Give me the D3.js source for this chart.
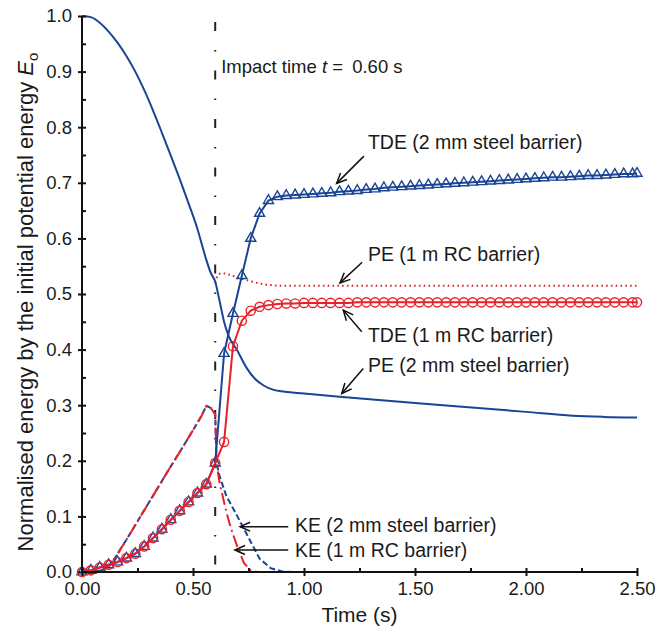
<!DOCTYPE html>
<html>
<head>
<meta charset="utf-8">
<script src="https://cdn.jsdelivr.net/npm/d3@7"></script>
<style>
  body { margin: 0; background: #fff; }
  svg text { font-family: "Liberation Sans", Arial, sans-serif; fill: #1a1a1a; }
</style>
</head>
<body>
<div id="chart"></div>
<script>
// time grid of the marker series (s)
var tdeTime = [0.00, 0.04, 0.08, 0.12, 0.16, 0.20, 0.24, 0.28, 0.32, 0.36, 0.40, 0.44, 0.48, 0.52, 0.56, 0.60,
    0.64, 0.68, 0.72, 0.76, 0.80, 0.84, 0.88, 0.92, 0.96, 1.00, 1.04, 1.08, 1.12, 1.16, 1.20, 1.24, 1.28,
    1.32, 1.36, 1.40, 1.44, 1.48, 1.52, 1.56, 1.60, 1.64, 1.68, 1.72, 1.76, 1.80, 1.84, 1.88, 1.92, 1.96,
    2.00, 2.04, 2.08, 2.12, 2.16, 2.20, 2.24, 2.28, 2.32, 2.36, 2.40, 2.44, 2.48, 2.50];

// TDE, 2 mm steel barrier (triangles)
var tdeSteel = [0.000, 0.003, 0.008, 0.013, 0.018, 0.025, 0.033, 0.046, 0.061, 0.077, 0.094, 0.110, 0.126, 0.142, 0.158, 0.196,
    0.393, 0.465, 0.533, 0.600, 0.645, 0.668, 0.675, 0.677, 0.678, 0.679, 0.680, 0.681, 0.682, 0.684, 0.685, 0.686, 0.688,
    0.689, 0.691, 0.692, 0.693, 0.694, 0.695, 0.696, 0.697, 0.698, 0.699, 0.700, 0.701, 0.702, 0.703, 0.704, 0.705, 0.706,
    0.707, 0.708, 0.709, 0.710, 0.710, 0.711, 0.712, 0.713, 0.713, 0.714, 0.715, 0.716, 0.716, 0.717];

// TDE, 1 m RC barrier (circles)
var tdeRc = [0.000, 0.003, 0.008, 0.013, 0.018, 0.025, 0.033, 0.046, 0.061, 0.077, 0.094, 0.110, 0.126, 0.142, 0.158, 0.196,
    0.234, 0.406, 0.452, 0.470, 0.477, 0.480, 0.482, 0.483, 0.483, 0.484, 0.484, 0.484, 0.484, 0.484, 0.484, 0.485, 0.485,
    0.485, 0.485, 0.485, 0.485, 0.485, 0.485, 0.485, 0.485, 0.485, 0.485, 0.485, 0.485, 0.485, 0.485, 0.485, 0.485, 0.485,
    0.485, 0.485, 0.485, 0.485, 0.485, 0.485, 0.485, 0.485, 0.485, 0.485, 0.485, 0.485, 0.485, 0.485];

// PE, 2 mm steel barrier
var peSteelTime = [0, 0.04, 0.08, 0.12, 0.16, 0.20, 0.24, 0.28, 0.32, 0.36, 0.40, 0.44, 0.48, 0.52, 0.555, 0.58, 0.60,
    0.62, 0.64, 0.66, 0.70, 0.74, 0.78, 0.82, 0.86, 0.90, 1.00, 1.16, 1.50, 2.00, 2.21, 2.35, 2.50];
var peSteel = [1.000, 0.998, 0.988, 0.972, 0.952, 0.928, 0.900, 0.867, 0.830, 0.790, 0.749, 0.707, 0.663, 0.617, 0.568, 0.538, 0.522,
    0.487, 0.450, 0.425, 0.398, 0.368, 0.347, 0.335, 0.328, 0.325, 0.321, 0.315, 0.304, 0.288, 0.281, 0.279, 0.278];

// PE, 1 m RC barrier (after impact)
var peRcTime = [0.60, 0.61, 0.625, 0.64, 0.66, 0.70, 0.75, 0.80, 0.85, 0.90, 1.00, 2.50];
var peRc = [0.520, 0.532, 0.537, 0.537, 0.535, 0.530, 0.524, 0.519, 0.516, 0.515, 0.515, 0.515];

// KE, 2 mm steel barrier
var keSteelTime = [0, 0.04, 0.08, 0.10, 0.12, 0.15, 0.20, 0.25, 0.30, 0.35, 0.40, 0.45, 0.50, 0.54, 0.56, 0.58, 0.60, 0.606,
    0.62, 0.65, 0.70, 0.75, 0.80, 0.85, 0.90, 0.95];
var keSteel = [0, 0, 0.002, 0.005, 0.010, 0.026, 0.058, 0.091, 0.124, 0.157, 0.190, 0.222, 0.255, 0.282, 0.299, 0.295, 0.284, 0.196,
    0.172, 0.137, 0.100, 0.062, 0.024, 0.007, 0.001, 0];

// KE, 1 m RC barrier
var keRcTime = [0, 0.04, 0.08, 0.10, 0.12, 0.15, 0.20, 0.25, 0.30, 0.35, 0.40, 0.45, 0.50, 0.54, 0.56, 0.58, 0.60, 0.606,
    0.62, 0.65, 0.67, 0.70, 0.73, 0.76, 0.79];
var keRc = [0, 0, 0.002, 0.005, 0.010, 0.026, 0.058, 0.091, 0.124, 0.157, 0.190, 0.222, 0.255, 0.282, 0.299, 0.295, 0.284, 0.196,
    0.160, 0.108, 0.080, 0.045, 0.016, 0.003, 0];

var xTicks = [0, 0.5, 1.0, 1.5, 2.0, 2.5];
var xMinor = [0, 0.25, 0.5, 0.75, 1.0, 1.25, 1.5, 1.75, 2.0, 2.25, 2.5];
var yTicks = [0, 0.1, 0.2, 0.3, 0.4, 0.5, 0.6, 0.7, 0.8, 0.9, 1.0];
var yMinor = [0, 0.05, 0.1, 0.15, 0.2, 0.25, 0.3, 0.35, 0.4, 0.45, 0.5, 0.55, 0.6, 0.65, 0.7, 0.75, 0.8, 0.85, 0.9, 0.95, 1.0];

var impactTime = 0.60;

// annotation labels: text anchor and arrow, in data units
var labels = [
    {text: "TDE (2 mm steel barrier)", tx: 1.288, ty: 0.760, from: [1.270, 0.748], to: [1.147, 0.699]},
    {text: "PE (1 m RC barrier)",      tx: 1.288, ty: 0.559, from: [1.262, 0.557], to: [1.162, 0.520]},
    {text: "TDE (1 m RC barrier)",     tx: 1.288, ty: 0.414, from: [1.260, 0.432], to: [1.177, 0.471]},
    {text: "PE (2 mm steel barrier)",  tx: 1.288, ty: 0.360, from: [1.267, 0.366], to: [1.170, 0.321]},
    {text: "KE (2 mm steel barrier)",  tx: 0.959, ty: 0.0725, from: [0.929, 0.0815], to: [0.712, 0.0815]},
    {text: "KE (1 m RC barrier)",      tx: 0.959, ty: 0.0275, from: [0.929, 0.0396], to: [0.689, 0.0396]}
];

var W = 669, H = 628;
var margin = {top: 16, right: 32, bottom: 56, left: 82};
var blue = "#1b4594", red = "#e8202a";

var svg = d3.select("#chart").append("svg")
    .attr("width", W)
    .attr("height", H);

var x = d3.scaleLinear().domain([0, 2.5]).range([margin.left, W - margin.right]);
var y = d3.scaleLinear().domain([0, 1]).range([H - margin.bottom, margin.top]);

function pts(ts, vs) {
    return ts.map(function(t, i) { return [t, vs[i]]; });
}

var lineLin = d3.line()
    .x(function(d) { return x(d[0]); })
    .y(function(d) { return y(d[1]); });

var lineSmooth = d3.line()
    .curve(d3.curveMonotoneX)
    .x(function(d) { return x(d[0]); })
    .y(function(d) { return y(d[1]); });

// impact time line
svg.append("line")
    .attr("x1", x(impactTime)).attr("x2", x(impactTime))
    .attr("y1", 22).attr("y2", y(0))
    .attr("stroke", "#222")
    .attr("stroke-width", 2)
    .attr("stroke-dasharray", "9,19,1.5,19");

svg.append("text")
    .attr("x", x(impactTime) + 6)
    .attr("y", 72.5)
    .attr("font-size", 18.5)
    .html('Impact time <tspan font-style="italic">t</tspan> = <tspan dx="4">0.60 s</tspan>');

// KE curves
svg.append("path")
    .attr("d", lineLin(pts(keSteelTime, keSteel)))
    .attr("fill", "none")
    .attr("stroke", blue)
    .attr("stroke-width", 2)
    .attr("stroke-dasharray", "6,3");

svg.append("path")
    .attr("d", lineLin(pts(keRcTime, keRc)))
    .attr("fill", "none")
    .attr("stroke", red)
    .attr("stroke-width", 2)
    .attr("stroke-dasharray", "12,4,2,4");

// PE curves
svg.append("path")
    .attr("d", lineSmooth(pts(peRcTime, peRc)))
    .attr("fill", "none")
    .attr("stroke", red)
    .attr("stroke-width", 2)
    .attr("stroke-dasharray", "1.6,3.2");

svg.append("path")
    .attr("d", lineSmooth(pts(peSteelTime, peSteel)))
    .attr("fill", "none")
    .attr("stroke", blue)
    .attr("stroke-width", 2);

// TDE steel with triangles
var steelPts = pts(tdeTime, tdeSteel);
svg.append("path")
    .attr("d", lineLin(steelPts))
    .attr("fill", "none")
    .attr("stroke", blue)
    .attr("stroke-width", 2);

svg.append("g").selectAll("path")
    .data(steelPts)
    .enter().append("path")
    .attr("d", d3.symbol().type(d3.symbolTriangle).size(44))
    .attr("transform", function(d) { return "translate(" + x(d[0]) + "," + y(d[1]) + ")"; })
    .attr("fill", "none")
    .attr("stroke", blue)
    .attr("stroke-width", 1.4);

// TDE RC with circles
var rcPts = pts(tdeTime, tdeRc);
svg.append("path")
    .attr("d", lineLin(rcPts))
    .attr("fill", "none")
    .attr("stroke", red)
    .attr("stroke-width", 2);

svg.append("g").selectAll("circle")
    .data(rcPts)
    .enter().append("circle")
    .attr("cx", function(d) { return x(d[0]); })
    .attr("cy", function(d) { return y(d[1]); })
    .attr("r", 4.6)
    .attr("fill", "none")
    .attr("stroke", red)
    .attr("stroke-width", 1.4);

// axes
var gy = svg.append("g")
    .attr("transform", "translate(" + margin.left + ",0)")
    .call(d3.axisLeft(y).tickValues(yTicks).tickSize(4).tickPadding(6).tickFormat(d3.format(".1f")));
svg.append("g")
    .attr("transform", "translate(" + margin.left + ",0)")
    .call(d3.axisRight(y).tickValues(yMinor).tickSize(4).tickFormat(""))
    .select(".domain").remove();

var gx = svg.append("g")
    .attr("transform", "translate(0," + y(0) + ")")
    .call(d3.axisBottom(x).tickValues(xTicks).tickSize(4).tickPadding(6).tickFormat(d3.format(".2f")));
svg.append("g")
    .attr("transform", "translate(0," + y(0) + ")")
    .call(d3.axisTop(x).tickValues(xMinor).tickSize(4).tickFormat(""))
    .select(".domain").remove();

svg.selectAll(".domain").attr("stroke", "#111").attr("stroke-width", 2);
svg.selectAll(".tick line").attr("stroke", "#111").attr("stroke-width", 2);
gy.selectAll(".domain").attr("d", "M0," + y(1) + "V" + y(0));
gx.selectAll(".domain").attr("d", "M" + x(0) + ",0H" + x(2.5));
svg.selectAll(".tick text")
    .attr("font-size", 18.5)
    .attr("font-family", "Liberation Sans, Arial, sans-serif")
    .attr("fill", "#1a1a1a");

// axis titles
svg.append("text")
    .attr("x", x(1.25))
    .attr("y", 622)
    .attr("text-anchor", "middle")
    .attr("font-size", 21)
    .text("Time (s)");

svg.append("text")
    .attr("transform", "translate(33," + ((margin.top + y(0)) / 2 + 8) + ") rotate(-90)")
    .attr("text-anchor", "middle")
    .attr("font-size", 22)
    .html('Normalised energy by the initial potential energy <tspan font-style="italic">E</tspan><tspan font-size="15" dy="5">o</tspan>');

// annotations with arrows
function arrow(g, x1, y1, x2, y2) {
    g.append("line")
        .attr("x1", x1).attr("y1", y1).attr("x2", x2).attr("y2", y2)
        .attr("stroke", "#111").attr("stroke-width", 1.5);
    var a = Math.atan2(y1 - y2, x1 - x2), len = 11, spread = 0.42;
    g.append("path")
        .attr("d", "M" + (x2 + len * Math.cos(a + spread)) + "," + (y2 + len * Math.sin(a + spread)) +
            "L" + x2 + "," + y2 +
            "L" + (x2 + len * Math.cos(a - spread)) + "," + (y2 + len * Math.sin(a - spread)))
        .attr("fill", "none")
        .attr("stroke", "#111")
        .attr("stroke-width", 1.5);
}

var ann = svg.append("g");
labels.forEach(function(l) {
    ann.append("text")
        .attr("x", x(l.tx))
        .attr("y", y(l.ty))
        .attr("font-size", 19.5)
        .text(l.text);
    arrow(ann, x(l.from[0]), y(l.from[1]), x(l.to[0]), y(l.to[1]));
});
</script>
</body>
</html>
